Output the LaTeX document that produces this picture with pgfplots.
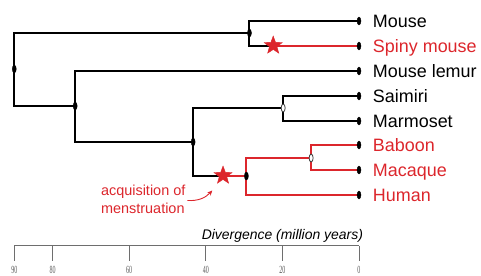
\documentclass[border=0pt]{standalone}
\usepackage{pgfplots}
\pgfplotsset{compat=1.18}
\usepackage{fontspec}
\setmainfont{Liberation Sans}
\newfontfamily\tickfont[FakeStretch=0.55]{Liberation Serif}
\usetikzlibrary{arrows.meta}
\definecolor{rd}{RGB}{220,38,44}
\definecolor{axgray}{RGB}{110,110,110}
\pgfdeclareplotmark{fstar}{%
 \pgfpathmoveto{\pgfpointpolar{90}{\pgfplotmarksize}}%
 \pgfpathlineto{\pgfpointpolar{126}{0.42\pgfplotmarksize}}%
 \pgfpathlineto{\pgfpointpolar{162}{\pgfplotmarksize}}%
 \pgfpathlineto{\pgfpointpolar{198}{0.42\pgfplotmarksize}}%
 \pgfpathlineto{\pgfpointpolar{234}{\pgfplotmarksize}}%
 \pgfpathlineto{\pgfpointpolar{270}{0.42\pgfplotmarksize}}%
 \pgfpathlineto{\pgfpointpolar{306}{\pgfplotmarksize}}%
 \pgfpathlineto{\pgfpointpolar{342}{0.42\pgfplotmarksize}}%
 \pgfpathlineto{\pgfpointpolar{18}{\pgfplotmarksize}}%
 \pgfpathlineto{\pgfpointpolar{54}{0.42\pgfplotmarksize}}%
 \pgfpathclose
 \pgfusepathqfillstroke}
\begin{document}
\begin{tikzpicture}
\useasboundingbox (0,0) rectangle (481bp,276bp);
\begin{axis}[at={(0,0)}, anchor=south west, scale only axis,
  width=481bp, height=276bp,
  xmin=-31.85, xmax=93.73, x dir=reverse,
  ymin=0, ymax=276, y dir=reverse,
  hide axis, clip=false]
% black branches
\addplot[black, line width=2bp, mark=none] coordinates {(0,21) (28.6,21) (28.6,46) (22.4,46)};
\addplot[black, line width=2bp, mark=none] coordinates {(28.6,33) (90,33) (90,106) (74.1,106)};
\addplot[black, line width=2bp, mark=none] coordinates {(0,71) (74.1,71) (74.1,142) (43.3,142)};
\addplot[black, line width=2bp, mark=none] coordinates {(35.5,176) (43.3,176) (43.3,108) (19.8,108)};
\addplot[black, line width=2bp, mark=none] coordinates {(0,96) (19.8,96) (19.8,121) (0,121)};
% red branches
\addplot[rd, line width=2bp, mark=none] coordinates {(0,46) (22.4,46)};
\addplot[rd, line width=2bp, mark=none] coordinates {(35.5,176) (29.4,176)};
\addplot[rd, line width=2bp, mark=none] coordinates {(0,195) (29.4,195) (29.4,158) (12.5,158)};
\addplot[rd, line width=2bp, mark=none] coordinates {(0,145) (12.5,145) (12.5,170) (0,170)};
% filled node dots
\addplot[only marks, mark=*, mark size=4, mark options={xscale=0.5, fill=black, draw=black}] coordinates {
 (0,21) (0,46) (0,71) (0,96) (0,121) (0,145) (0,170) (0,195)
 (28.6,33) (90,69) (74.1,106) (43.3,142) (29.4,176)};
% open node dots
\addplot[only marks, mark=*, mark size=4, mark options={xscale=0.5, draw=black!75, line width=0.8bp, fill=white}] coordinates {
 (19.8,108) (12.5,158)};
% stars
\addplot[only marks, mark=fstar, mark size=9.5, mark options={fill=rd, draw=rd}] coordinates {(22.4,45.5) (35.5,175.5)};
% labels
\begin{scope}[every node/.style={anchor=base west, inner sep=0pt, font=\fontsize{18}{20}\selectfont}]
\node at (axis cs:-3.6,27.4) {Mouse};
\node[text=rd] at (axis cs:-3.6,52.4) {Spiny mouse};
\node at (axis cs:-3.6,77.4) {Mouse lemur};
\node at (axis cs:-3.6,102.4) {Saimiri};
\node at (axis cs:-3.6,127.4) {Marmoset};
\node[text=rd] at (axis cs:-3.6,151.4) {Baboon};
\node[text=rd] at (axis cs:-3.6,176.4) {Macaque};
\node[text=rd] at (axis cs:-3.6,201.4) {Human};
\end{scope}
\node[anchor=base west, inner sep=0pt, text=rd, font=\fontsize{14.5}{17}\selectfont] at (axis cs:67.4,195.7) {acquisition of};
\node[anchor=base west, inner sep=0pt, text=rd, font=\fontsize{14.5}{17}\selectfont] at (axis cs:67.4,213.3) {menstruation};
\draw[rd, line width=0.9bp, -{Stealth[length=5bp,width=4.5bp]}] (axis cs:44.8,200.5) to[bend right=25] (axis cs:38.3,190.5);
\node[anchor=base east, inner sep=0pt, font=\fontsize{14}{16}\selectfont\itshape] at (axis cs:-1.1,239) {Divergence (million years)};
\end{axis}
\begin{axis}[at={(14.3bp,30.3bp)}, anchor=south west, scale only axis,
  width=344.7bp, height=10bp,
  xmin=0, xmax=90, x dir=reverse, ymin=0, ymax=1,
  axis x line*=bottom, hide y axis,
  x axis line style={-, draw=axgray, line width=0.8bp},
  tick align=outside, major tick length=15bp,
  xtick={0,20,40,60,80,90},
  x tick style={draw=axgray, line width=0.8bp},
  /pgf/number format/assume math mode=true,
  xticklabel style={font=\tickfont\fontsize{11}{11}\selectfont, text=axgray!80!black, yshift=-2bp}]
\end{axis}
\end{tikzpicture}
\end{document}
